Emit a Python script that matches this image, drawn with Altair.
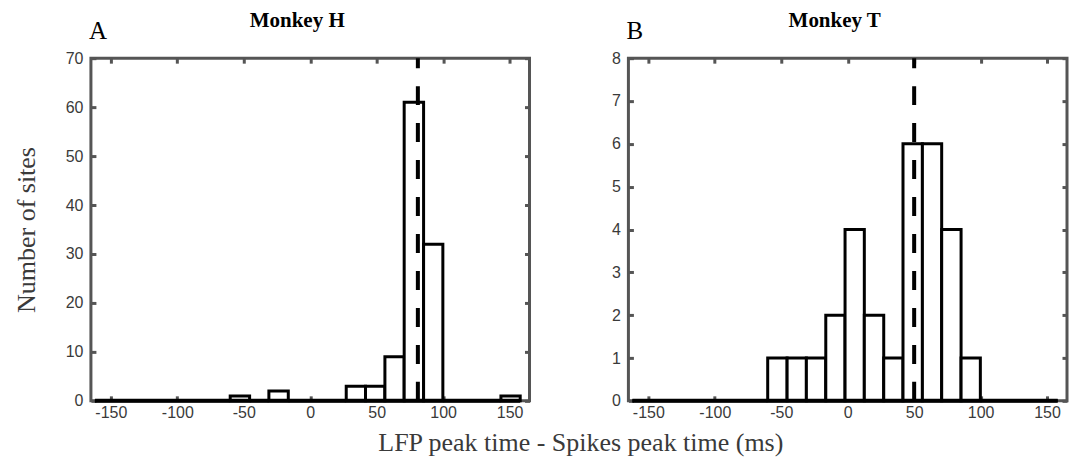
import altair as alt
import pandas as pd

# ---- data ----
bin_edges = [-162.0, -147.5, -132.9, -118.4, -103.8, -89.3, -74.7, -60.2, -45.6,
             -31.1, -16.5, -2.0, 12.5, 27.1, 41.6, 56.2, 70.7, 85.3, 99.8,
             114.4, 128.9, 143.5, 158.0]
counts_h = [0, 0, 0, 0, 0, 0, 0, 1, 0, 2, 0, 0, 0, 3, 3, 9, 61, 32, 0, 0, 0, 1]
counts_t = [0, 0, 0, 0, 0, 0, 0, 1, 1, 1, 2, 4, 2, 1, 6, 6, 4, 1, 0, 0, 0, 0]
mean_h = 81.0
mean_t = 50.0
x_ticks = [-150, -100, -50, 0, 50, 100, 150]
y_ticks_h = [0, 10, 20, 30, 40, 50, 60, 70]
y_ticks_t = [0, 1, 2, 3, 4, 5, 6, 7, 8]
y_max_h = 70
y_max_t = 8
panel_titles = ["Monkey H", "Monkey T"]
panel_letters = ["A", "B"]
x_domain = [-165, 165]

AX = "#555555"
LBL = "#3a3a3a"
SANS = "Liberation Sans"
SERIF = "Liberation Serif"
W, H = 439, 343


def tick_axis(orient, values, labels, title=None, label_pad=6):
    kw = dict(orient=orient, values=values, offset=-5, tickSize=5, tickWidth=3,
              tickColor=AX, domain=False, grid=False, labels=labels,
              labelFont=SANS, labelFontSize=16, labelColor=LBL,
              labelPadding=label_pad, labelExpr="'' + datum.value", title=title)
    if title:
        kw.update(titleFont=SERIF, titleFontSize=26, titleFontWeight="normal",
                  titleColor=LBL, titlePadding=26)
    return alt.Axis(**kw)


def panel(counts, mean, ymax, yticks, title, letter, ytitle):
    df = pd.DataFrame({"lo": bin_edges[:-1], "hi": bin_edges[1:], "n": counts})
    xs = alt.Scale(domain=x_domain, nice=False, zero=False)
    ys = alt.Scale(domain=[0, ymax], nice=False)

    bars = alt.Chart(df).mark_bar(fill="white", stroke="black", strokeWidth=3,
                                  strokeJoin="miter").encode(
        x=alt.X("lo:Q", scale=xs, axis=tick_axis("bottom", x_ticks, True, label_pad=4)),
        x2="hi:Q",
        y=alt.Y("n:Q", scale=ys, stack=None,
                axis=tick_axis("left", yticks, True, title=ytitle, label_pad=8)),
        y2=alt.datum(0),
    )
    base_df = pd.DataFrame({"lo": [bin_edges[0]], "hi": [bin_edges[-1]], "z": [0]})
    base = alt.Chart(base_df).mark_rule(color="black", strokeWidth=4).encode(
        x=alt.X("lo:Q", scale=xs, axis=None), x2="hi:Q",
        y=alt.Y("z:Q", scale=ys, axis=None),
    )
    dash_df = pd.DataFrame({"m": [mean], "y0": [0], "y1": [ymax]})
    dash = alt.Chart(dash_df).mark_rule(color="black", strokeWidth=4,
                                        strokeDash=[19, 18]).encode(
        x=alt.X("m:Q", scale=xs, axis=tick_axis("top", x_ticks, False)),
        y=alt.Y("y0:Q", scale=ys, axis=tick_axis("right", yticks, False)),
        y2="y1:Q",
    )
    let = alt.Chart(pd.DataFrame({"t": [letter]})).mark_text(
        align="left", baseline="alphabetic", font=SERIF, fontSize=25, color="black"
    ).encode(x=alt.value(-2), y=alt.value(-19), text="t:N")
    ttl = alt.Chart(pd.DataFrame({"t": [title]})).mark_text(
        align="center", baseline="alphabetic", font=SERIF, fontSize=21,
        fontWeight="bold", color="black"
    ).encode(x=alt.value(W / 2 - 13), y=alt.value(-31), text="t:N")

    return alt.layer(bars, base, dash, let, ttl).resolve_axis(
        x="independent", y="independent"
    ).properties(width=W, height=H)


left = panel(counts_h, mean_h, y_max_h, y_ticks_h, panel_titles[0], panel_letters[0],
             "Number of sites")
right = panel(counts_t, mean_t, y_max_t, y_ticks_t, panel_titles[1], panel_letters[1],
              None)

chart = alt.hconcat(left, right, spacing=99, bounds="flush").properties(
    padding={"left": 3, "right": 0, "top": 0, "bottom": 0},
    title=alt.TitleParams("LFP peak time - Spikes peak time (ms)", orient="bottom",
                          anchor="middle", font=SERIF, fontSize=26,
                          fontWeight="normal", color=LBL, dx=40, offset=8),
).configure_view(stroke=AX, strokeWidth=3)

chart.save("out.html", embed_options={"renderer": "svg", "actions": False})
